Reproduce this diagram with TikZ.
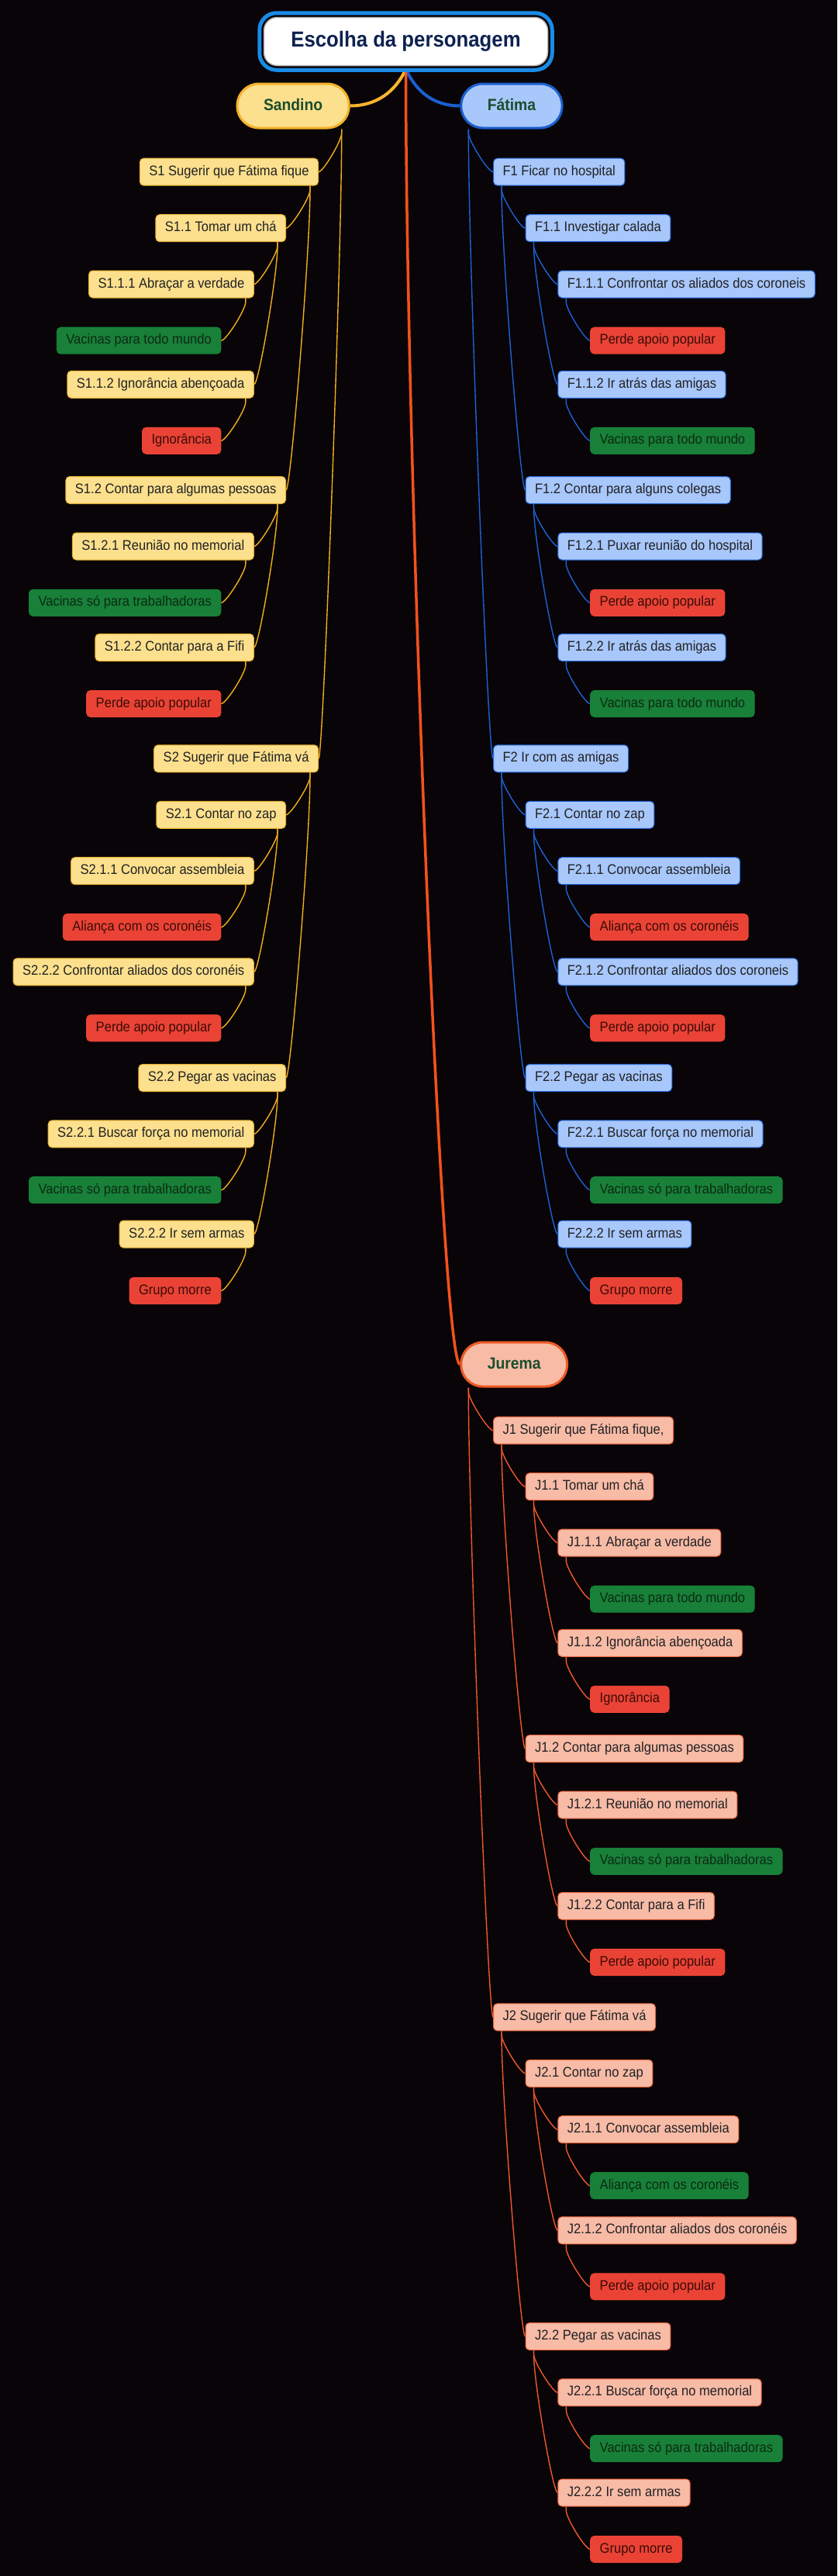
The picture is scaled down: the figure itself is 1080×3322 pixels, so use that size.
\documentclass[tikz,border=0pt]{standalone}
\usepackage{fontspec}
\setmainfont{Liberation Sans}[FakeStretch=0.92]
\usetikzlibrary{calc}
\definecolor{bgc}{HTML}{080408}
\definecolor{yfill}{HTML}{FDE08D}
\definecolor{yedge}{HTML}{E6AE2C}
\definecolor{ylinec}{HTML}{F2AE1C}
\definecolor{bfill}{HTML}{A8C7FA}
\definecolor{bedge}{HTML}{2466D8}
\definecolor{blinec}{HTML}{1C62D6}
\definecolor{sfill}{HTML}{F8BBA6}
\definecolor{sedge}{HTML}{E8643C}
\definecolor{slinec}{HTML}{F0582A}
\definecolor{gfill}{HTML}{188038}
\definecolor{rfill}{HTML}{EA4335}
\definecolor{txtc}{HTML}{202124}
\definecolor{gtxt}{HTML}{0B2A14}
\definecolor{rtxt}{HTML}{3A0B08}
\definecolor{pilltxt}{HTML}{1B4D2E}
\definecolor{navy}{HTML}{0E2150}
\definecolor{ringc}{HTML}{1A8BE6}
\definecolor{pillSedge}{HTML}{F4B12A}
\definecolor{pillFedge}{HTML}{1A5FCC}
\definecolor{pillJedge}{HTML}{EE5A24}
\definecolor{rootS}{HTML}{F7B52C}
\definecolor{rootF}{HTML}{1A5FD0}
\definecolor{rootJ}{HTML}{F4511E}
\newcommand\fsN{\fontsize{18pt}{21pt}\selectfont}
\newcommand\fsP{\fontsize{21pt}{25pt}\selectfont\bfseries}
\newcommand\fsR{\fontsize{28pt}{33pt}\selectfont\bfseries}
\newcommand\lnk[3]{\draw[#1] let \p1=(#2), \p2=(#3) in (\p1) -- (\x1,\y1-5pt) .. controls (\x1,{\y1-5pt-0.2*(\y1-5pt-\y2)}) and ({\x2-0.2*(\x2-\x1)},\y2) .. (\p2);}
\newcommand\linkR[3]{\lnk{#1}{[xshift=11pt]#2.south west}{#3.west}}
\newcommand\linkL[3]{\lnk{#1}{[xshift=-11pt]#2.south east}{#3.east}}
\newcommand\treelinks[3]{%
 #1{#3}{#2}{#21}#1{#3}{#2}{#22}%
 #1{#3}{#21}{#211}#1{#3}{#21}{#212}%
 #1{#3}{#211}{#2111}#1{#3}{#211}{#2112}%
 #1{#3}{#2111}{#2111r}#1{#3}{#2112}{#2112r}%
 #1{#3}{#212}{#2121}#1{#3}{#212}{#2122}%
 #1{#3}{#2121}{#2121r}#1{#3}{#2122}{#2122r}%
 #1{#3}{#22}{#221}#1{#3}{#22}{#222}%
 #1{#3}{#221}{#2211}#1{#3}{#221}{#2212}%
 #1{#3}{#2211}{#2211r}#1{#3}{#2212}{#2212r}%
 #1{#3}{#222}{#2221}#1{#3}{#222}{#2222}%
 #1{#3}{#2221}{#2221r}#1{#3}{#2222}{#2222r}}
\tikzset{
 base/.style={rounded corners=5pt, inner xsep=12pt, inner ysep=9pt, text height=13pt, text depth=4pt, font=\fsN, line width=1pt},
 yn/.style={base, fill=yfill, draw=yedge, text=txtc},
 bn/.style={base, fill=bfill, draw=bedge, text=txtc},
 sn/.style={base, fill=sfill, draw=sedge, text=txtc},
 gl/.style={base, inner ysep=8.5pt, fill=gfill, draw=gfill, text=gtxt},
 rl/.style={base, inner ysep=8.5pt, fill=rfill, draw=rfill, text=rtxt},
 pill/.style={rounded corners=28pt, minimum height=57pt, inner xsep=34pt, inner ysep=0pt, text height=15pt, text depth=4pt, font=\fsP, line width=3pt, text=pilltxt},
 rootbox/.style={fill=white, draw=gray!55, line width=1.5pt, rounded corners=17pt, minimum width=366pt, minimum height=62pt, inner sep=0pt, font=\fsR, text=navy},
 ylk/.style={draw=ylinec, line width=1.4pt},
 blk/.style={draw=blinec, line width=1.4pt},
 slk/.style={draw=slinec, line width=1.4pt},
}
\begin{document}
\begin{tikzpicture}[x=1pt,y=-1pt]
\fill[bgc] (0,0) rectangle (1080,3322);
\useasboundingbox (0,0) rectangle (1080,3322);
% root
\node[rootbox] (root) at (523.5,53.5) {Escolha da personagem};
\coordinate (rootb) at ([yshift=-4pt]root.south);
% pills
\node[pill, fill=yfill, draw=pillSedge, anchor=east] (s) at (451.7,136.5) {Sandino};
\node[pill, fill=bfill, draw=pillFedge, anchor=west] (f) at (593.3,136.5) {Fátima};
\node[pill, fill=sfill, draw=pillJedge, anchor=west] (j) at (593.3,1759.5) {Jurema};
% Sandino tree
\node[yn, anchor=east] (s1) at (411,221.7) {S1 Sugerir que Fátima fique};
\node[yn, anchor=east] (s11) at (369,294.2) {S1.1 Tomar um chá};
\node[yn, anchor=east] (s111) at (327.8,366.5) {S1.1.1 Abraçar a verdade};
\node[gl, anchor=east] (s111r) at (285.4,439.2) {Vacinas para todo mundo};
\node[yn, anchor=east] (s112) at (327.8,495.8) {S1.1.2 Ignorância abençoada};
\node[rl, anchor=east] (s112r) at (285.4,568.3) {Ignorância};
\node[yn, anchor=east] (s12) at (369,632) {S1.2 Contar para algumas pessoas};
\node[yn, anchor=east] (s121) at (327.8,704.5) {S1.2.1 Reunião no memorial};
\node[gl, anchor=east] (s121r) at (285.4,777.3) {Vacinas só para trabalhadoras};
\node[yn, anchor=east] (s122) at (327.8,835) {S1.2.2 Contar para a Fifi};
\node[rl, anchor=east] (s122r) at (285.4,907.5) {Perde apoio popular};
\node[yn, anchor=east] (s2) at (411,978.3) {S2 Sugerir que Fátima vá};
\node[yn, anchor=east] (s21) at (369,1050.8) {S2.1 Contar no zap};
\node[yn, anchor=east] (s211) at (327.8,1123.2) {S2.1.1 Convocar assembleia};
\node[rl, anchor=east] (s211r) at (285.4,1195.7) {Aliança com os coronéis};
\node[yn, anchor=east] (s212) at (327.8,1253.3) {S2.2.2 Confrontar aliados dos coronéis};
\node[rl, anchor=east] (s212r) at (285.4,1325.8) {Perde apoio popular};
\node[yn, anchor=east] (s22) at (369,1390) {S2.2 Pegar as vacinas};
\node[yn, anchor=east] (s221) at (327.8,1462.3) {S2.2.1 Buscar força no memorial};
\node[gl, anchor=east] (s221r) at (285.4,1534.7) {Vacinas só para trabalhadoras};
\node[yn, anchor=east] (s222) at (327.8,1591.5) {S2.2.2 Ir sem armas};
\node[rl, anchor=east] (s222r) at (285.4,1664.5) {Grupo morre};
% Fatima tree
\node[bn, anchor=west] (f1) at (636,221.7) {F1 Ficar no hospital};
\node[bn, anchor=west] (f11) at (677.5,294.2) {F1.1 Investigar calada};
\node[bn, anchor=west] (f111) at (719.3,366.5) {F1.1.1 Confrontar os aliados dos coroneis};
\node[rl, anchor=west] (f111r) at (761.2,439.2) {Perde apoio popular};
\node[bn, anchor=west] (f112) at (719.3,495.8) {F1.1.2 Ir atrás das amigas};
\node[gl, anchor=west] (f112r) at (761.2,568.3) {Vacinas para todo mundo};
\node[bn, anchor=west] (f12) at (677.5,632) {F1.2 Contar para alguns colegas};
\node[bn, anchor=west] (f121) at (719.3,704.5) {F1.2.1 Puxar reunião do hospital};
\node[rl, anchor=west] (f121r) at (761.2,777.3) {Perde apoio popular};
\node[bn, anchor=west] (f122) at (719.3,835) {F1.2.2 Ir atrás das amigas};
\node[gl, anchor=west] (f122r) at (761.2,907.5) {Vacinas para todo mundo};
\node[bn, anchor=west] (f2) at (636,978.3) {F2 Ir com as amigas};
\node[bn, anchor=west] (f21) at (677.5,1050.8) {F2.1 Contar no zap};
\node[bn, anchor=west] (f211) at (719.3,1123.2) {F2.1.1 Convocar assembleia};
\node[rl, anchor=west] (f211r) at (761.2,1195.7) {Aliança com os coronéis};
\node[bn, anchor=west] (f212) at (719.3,1253.3) {F2.1.2 Confrontar aliados dos coroneis};
\node[rl, anchor=west] (f212r) at (761.2,1325.8) {Perde apoio popular};
\node[bn, anchor=west] (f22) at (677.5,1390) {F2.2 Pegar as vacinas};
\node[bn, anchor=west] (f221) at (719.3,1462.3) {F2.2.1 Buscar força no memorial};
\node[gl, anchor=west] (f221r) at (761.2,1534.7) {Vacinas só para trabalhadoras};
\node[bn, anchor=west] (f222) at (719.3,1591.5) {F2.2.2 Ir sem armas};
\node[rl, anchor=west] (f222r) at (761.2,1664.5) {Grupo morre};
% Jurema tree
\node[sn, anchor=west] (j1) at (636,1844.7) {J1 Sugerir que Fátima fique,};
\node[sn, anchor=west] (j11) at (677.5,1917.2) {J1.1 Tomar um chá};
\node[sn, anchor=west] (j111) at (719.3,1989.5) {J1.1.1 Abraçar a verdade};
\node[gl, anchor=west] (j111r) at (761.2,2062.2) {Vacinas para todo mundo};
\node[sn, anchor=west] (j112) at (719.3,2118.8) {J1.1.2 Ignorância abençoada};
\node[rl, anchor=west] (j112r) at (761.2,2191.3) {Ignorância};
\node[sn, anchor=west] (j12) at (677.5,2255) {J1.2 Contar para algumas pessoas};
\node[sn, anchor=west] (j121) at (719.3,2327.5) {J1.2.1 Reunião no memorial};
\node[gl, anchor=west] (j121r) at (761.2,2400.3) {Vacinas só para trabalhadoras};
\node[sn, anchor=west] (j122) at (719.3,2458) {J1.2.2 Contar para a Fifi};
\node[rl, anchor=west] (j122r) at (761.2,2530.5) {Perde apoio popular};
\node[sn, anchor=west] (j2) at (636,2601.3) {J2 Sugerir que Fátima vá};
\node[sn, anchor=west] (j21) at (677.5,2673.8) {J2.1 Contar no zap};
\node[sn, anchor=west] (j211) at (719.3,2746.2) {J2.1.1 Convocar assembleia};
\node[gl, anchor=west] (j211r) at (761.2,2818.7) {Aliança com os coronéis};
\node[sn, anchor=west] (j212) at (719.3,2876.3) {J2.1.2 Confrontar aliados dos coronéis};
\node[rl, anchor=west] (j212r) at (761.2,2948.8) {Perde apoio popular};
\node[sn, anchor=west] (j22) at (677.5,3013) {J2.2 Pegar as vacinas};
\node[sn, anchor=west] (j221) at (719.3,3085.3) {J2.2.1 Buscar força no memorial};
\node[gl, anchor=west] (j221r) at (761.2,3157.7) {Vacinas só para trabalhadoras};
\node[sn, anchor=west] (j222) at (719.3,3214.5) {J2.2.2 Ir sem armas};
\node[rl, anchor=west] (j222r) at (761.2,3287.5) {Grupo morre};
% links
\treelinks{\linkL}{s}{ylk}
\treelinks{\linkR}{f}{blk}
\treelinks{\linkR}{j}{slk}
\draw[rootS, line width=4pt] (rootb) .. controls +(-14,30) and +(33,0) .. (s.east);
\draw[rootF, line width=4pt] (rootb) .. controls +(14,30) and +(-33,0) .. (f.west);
\draw[rootJ, line width=3.5pt] (rootb) .. controls +(0,508) and +(-24,0) .. (j.west);
% ring around root
\draw[ringc, line width=5pt, rounded corners=22pt] ([xshift=-5pt,yshift=5pt]root.north west) rectangle ([xshift=5pt,yshift=-5pt]root.south east);
\end{tikzpicture}
\end{document}
